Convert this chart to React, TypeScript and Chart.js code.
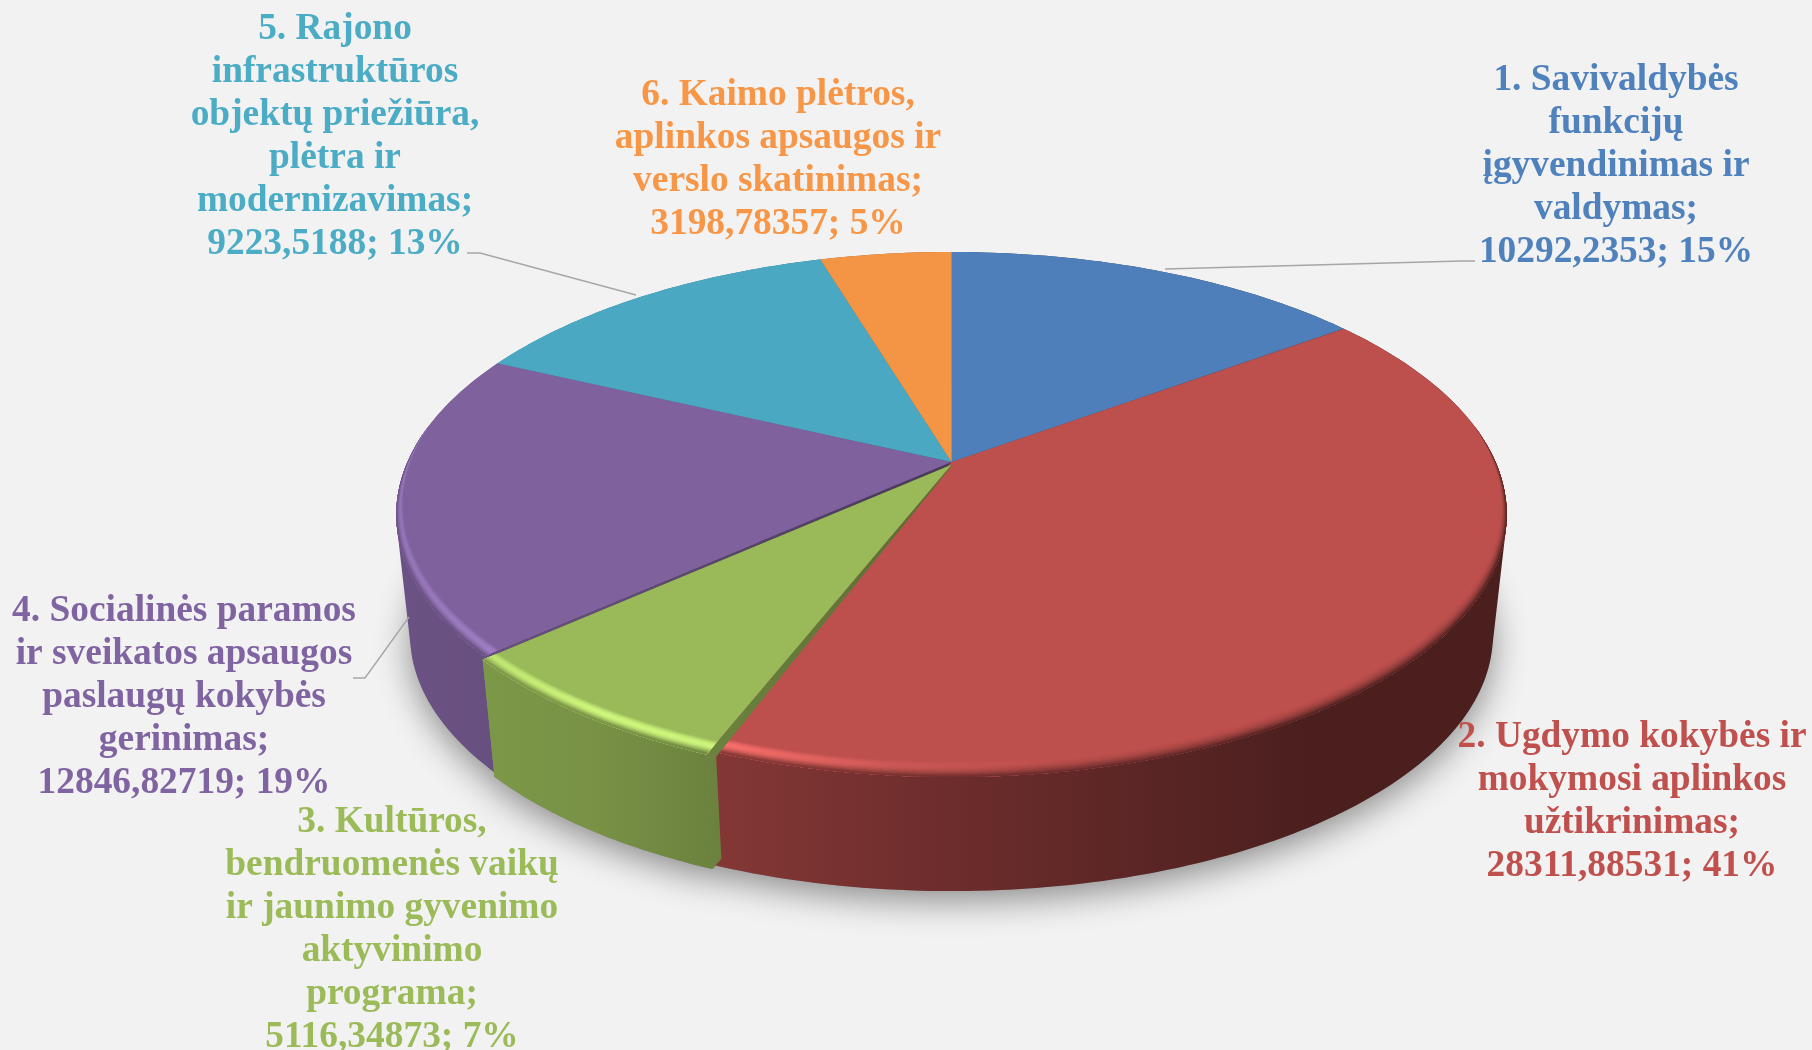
import React, { useEffect, useRef } from "react";
import { Chart, ArcElement, PieController } from "chart.js";

// ---- data -----------------------------------------------------------------
const categories: string[][] = [
  ["1. Savivaldybės", "funkcijų", "įgyvendinimas ir", "valdymas;"],
  ["2. Ugdymo kokybės ir", "mokymosi aplinkos", "užtikrinimas;"],
  ["3. Kultūros,", "bendruomenės vaikų", "ir jaunimo gyvenimo", "aktyvinimo", "programa;"],
  ["4. Socialinės paramos", "ir sveikatos apsaugos", "paslaugų kokybės", "gerinimas;"],
  ["5. Rajono", "infrastruktūros", "objektų priežiūra,", "plėtra ir", "modernizavimas;"],
  ["6. Kaimo plėtros,", "aplinkos apsaugos ir", "verslo skatinimas;"],
];
const values: number[] = [10292.2353, 28311.88531, 5116.34873, 12846.82719, 9223.5188, 3198.78357];
const sliceColors: string[] = ["#4e7fba", "#bd4f4c", "#9aba59", "#7f629d", "#4aa8c3", "#f49545"];
const labelColors: string[] = ["#4f81bd", "#c0504d", "#9bbb59", "#8064a2", "#4bacc6", "#f79646"];
const sliceOffsets: number[] = [0, 0, 6, 0, 0, 0];

// ---- layout ---------------------------------------------------------------
const labelAnchors = [
  { x: 1616, y: 90 },
  { x: 1632, y: 747 },
  { x: 392, y: 832 },
  { x: 184, y: 621 },
  { x: 335, y: 39 },
  { x: 778, y: 105 },
];
const leaderLines: number[][][] = [
  [[1475, 261], [1462, 261], [1165, 269]],
  [[353, 678], [365, 678], [409, 617]],
  [[467, 253], [480, 253], [636, 295]],
];
const LINE_HEIGHT = 43;
const FONT = 'bold 37.4px "Liberation Serif"';
const BACKGROUND = "#f2f2f2";

const K = 0.2; // perspective strength
const SY = 252 / 544; // vertical foreshortening
const LOWER_SCALE = 0.975; // far (bottom) plane of the pie
const LOWER_DY = 122 / 544; // drop of the bottom plane
const BEVEL = 0.04;
const STEP = Math.PI / 180;

// ---- colour helpers -------------------------------------------------------
const rgb = (hex: string) => [1, 3, 5].map((i) => parseInt(hex.slice(i, i + 2), 16));
const css = (c: number[]) => `rgb(${c.map((v) => Math.round(Math.max(0, Math.min(255, v)))).join(",")})`;
const wallStops = [
  [400, 0.84, 0.3],
  [600, 0.78, 0.62],
  [730, 0.69, 0.62],
  [900, 0.6, 0.2],
  [1060, 0.52, 0.04],
  [1320, 0.39, 0],
  [1510, 0.39, 0],
];
const X0 = 400;
const X1 = 1510;

function wallGradient(ctx: CanvasRenderingContext2D, base: number[]) {
  const g = ctx.createLinearGradient(X0, 0, X1, 0);
  wallStops.forEach(([x, f]) => g.addColorStop((x - X0) / (X1 - X0), css(base.map((b) => b * f))));
  return g;
}
function bevelGradient(ctx: CanvasRenderingContext2D, base: number[], t: number) {
  const g = ctx.createLinearGradient(X0, 0, X1, 0);
  const bump = Math.sin(Math.PI * Math.min(1, t * 1.15));
  const toWall = Math.pow(t, 2.2);
  wallStops.forEach(([x, f, h]) => {
    const c = base.map((b) => {
      const m = b + (b * f - b) * toWall;
      return m * (1 + 0.5 * h * bump) + 18 * h * bump;
    });
    g.addColorStop((x - X0) / (X1 - X0), css(c));
  });
  return g;
}

const signedArea = (p: number[][]) =>
  p.reduce((s, a, i) => {
    const b = p[(i + 1) % p.length];
    return s + a[0] * b[1] - b[0] * a[1];
  }, 0);

// ---- 3D slice element ------------------------------------------------------
class Arc3D extends ArcElement {
  static id = "arc3d";

  plane(r: number, a: number, lower: boolean) {
    const R = (this as any).outerRadius as number;
    const off = ((this as any).options.offset || 0) / R;
    const U = r * Math.cos(a);
    const V = r * Math.sin(a) + off; // a pulled slice moves towards the viewer
    const w = 1 - K * V;
    const scale = lower ? LOWER_SCALE : 1;
    return [
      (this as any).x + (R * scale * U) / w,
      (this as any).y + (lower ? LOWER_DY * R : 0) + (SY * R * scale * V) / w,
    ];
  }

  midCos() {
    return Math.cos(((this as any).startAngle + (this as any).endAngle) / 2);
  }

  angles() {
    const s = (this as any).startAngle as number;
    const e = (this as any).endAngle as number;
    const list: number[] = [];
    for (let a = s; a < e; a += STEP) list.push(a);
    list.push(e);
    return list;
  }

  poly(ctx: CanvasRenderingContext2D, pts: number[][]) {
    ctx.beginPath();
    pts.forEach((p, i) => (i ? ctx.lineTo(p[0], p[1]) : ctx.moveTo(p[0], p[1])));
    ctx.closePath();
  }

  // flat faces along the two cut edges, from radius rIn out to the rim
  drawRadial(ctx: CanvasRenderingContext2D, rIn: number) {
    ctx.fillStyle = wallGradient(ctx, rgb((this as any).options.backgroundColor));
    [(this as any).startAngle, (this as any).endAngle].forEach((a: number) => {
      this.poly(ctx, [this.plane(rIn, a, false), this.plane(1, a, false), this.plane(1, a, true), this.plane(rIn, a, true)]);
      ctx.fill();
    });
  }

  // the sliver of the cut face seen beside a pulled slice's top
  drawCutEdge(ctx: CanvasRenderingContext2D) {
    const a = (this as any).startAngle as number;
    const apex = this.plane(0, a, false);
    const rim = this.plane(1, a, false);
    ctx.fillStyle = wallGradient(ctx, rgb((this as any).options.backgroundColor));
    this.poly(ctx, [apex, rim, [rim[0] + 4, rim[1] - 1], [rim[0] + 5, rim[1] + 8], [apex[0] + 0.6, apex[1] + 0.6]]);
    ctx.fill();
  }

  // curved outer wall: one path of same-wound quads, so no seams appear
  drawWall(ctx: CanvasRenderingContext2D) {
    ctx.fillStyle = wallGradient(ctx, rgb((this as any).options.backgroundColor));
    const as = this.angles();
    ctx.beginPath();
    for (let i = 0; i < as.length - 1; i++) {
      let q = [
        this.plane(1, as[i], false),
        this.plane(1, as[i + 1], false),
        this.plane(1, as[i + 1], true),
        this.plane(1, as[i], true),
      ];
      if (signedArea(q) < 0) q = q.reverse();
      q.forEach((p, j) => (j ? ctx.lineTo(p[0], p[1]) : ctx.moveTo(p[0], p[1])));
      ctx.closePath();
    }
    ctx.fill();
  }

  draw(ctx: CanvasRenderingContext2D) {
    const color = (this as any).options.backgroundColor as string;
    const base = rgb(color);
    const as = this.angles();
    this.poly(ctx, [this.plane(0, as[0], false), ...as.map((a) => this.plane(1, a, false))]);
    ctx.fillStyle = color;
    ctx.fill();

    const width = (a: number) => BEVEL * Math.max(0, (Math.sin(a) + 0.15) / 1.15);
    const layers = 12;
    for (let i = 0; i < layers; i++) {
      const t = (i + 0.5) / layers;
      const edge = 1 - i / layers;
      ctx.fillStyle = bevelGradient(ctx, base, t);
      this.poly(ctx, [
        ...as.map((a) => this.plane(1, a, false)),
        ...as.slice().reverse().map((a) => this.plane(1 - width(a) * edge, a, false)),
      ]);
      ctx.fill();
    }
  }
}

// ---- controller: shadow, then walls, then top faces ------------------------
class Pie3DController extends PieController {
  static id = "pie3d";
  static defaults = { dataElementType: "arc3d" };

  draw() {
    const ctx = (this as any).chart.ctx as CanvasRenderingContext2D;
    const arcs = (this as any)._cachedMeta.data as Arc3D[];
    const still = arcs.filter((_, i) => !(sliceOffsets[i] > 0));
    const pulled = arcs.filter((_, i) => sliceOffsets[i] > 0);

    ctx.save();
    ctx.shadowColor = "rgba(0,0,0,0.42)";
    ctx.shadowBlur = 34;
    ctx.shadowOffsetY = 10;
    ctx.fillStyle = "#888";
    ctx.beginPath();
    arcs.forEach((arc) => arc.angles().forEach((a) => {
      const p = arc.plane(1, a, true);
      ctx.lineTo(p[0], p[1]);
    }));
    ctx.closePath();
    ctx.fill();
    ctx.restore();

    still
      .slice()
      .sort((a, b) => b.midCos() - a.midCos())
      .forEach((arc) => arc.drawRadial(ctx, 0));
    pulled.forEach((arc) => arc.drawRadial(ctx, 0));
    still.forEach((arc) => arc.drawWall(ctx));
    still.forEach((arc) => arc.draw(ctx));
    pulled.forEach((arc) => {
      arc.drawRadial(ctx, 0.97);
      arc.drawCutEdge(ctx);
      arc.drawWall(ctx);
      arc.draw(ctx);
    });
  }
}

Chart.register(ArcElement, Arc3D as any, PieController, Pie3DController as any);

// ---- data labels and leader lines -----------------------------------------
const labelsPlugin = {
  id: "sliceLabels",
  afterDatasetsDraw(chart: any) {
    const ctx = chart.ctx as CanvasRenderingContext2D;
    const total = values.reduce((a, b) => a + b, 0);
    ctx.save();
    ctx.strokeStyle = "#a6a6a6";
    ctx.lineWidth = 1.4;
    leaderLines.forEach((line) => {
      ctx.beginPath();
      line.forEach((p, i) => (i ? ctx.lineTo(p[0], p[1]) : ctx.moveTo(p[0], p[1])));
      ctx.stroke();
    });
    ctx.font = FONT;
    ctx.textAlign = "center";
    ctx.textBaseline = "alphabetic";
    categories.forEach((lines, i) => {
      const valueLine = `${String(values[i]).replace(".", ",")}; ${Math.round((values[i] / total) * 100)}%`;
      ctx.fillStyle = labelColors[i];
      [...lines, valueLine].forEach((text, j) => {
        ctx.fillText(text, labelAnchors[i].x, labelAnchors[i].y + j * LINE_HEIGHT);
      });
    });
    ctx.restore();
  },
};

export default function App() {
  const ref = useRef<HTMLCanvasElement>(null);
  useEffect(() => {
    document.body.style.margin = "0";
    document.body.style.background = BACKGROUND;
    const chart = new Chart(ref.current!, {
      type: "pie3d" as any,
      data: {
        labels: categories.map((c) => c.join(" ")),
        datasets: [
          {
            data: values,
            backgroundColor: sliceColors,
            offset: sliceOffsets,
            borderWidth: 0,
            clip: false,
          } as any,
        ],
      },
      options: {
        responsive: false,
        animation: false,
        radius: 544,
        layout: { padding: { left: 91, bottom: 126 } },
        plugins: { legend: { display: false }, tooltip: { enabled: false } },
      } as any,
      plugins: [labelsPlugin],
    });
    return () => chart.destroy();
  }, []);
  return (
    <div style={{ position: "absolute", left: 0, top: 0, width: 1812, height: 1050, background: BACKGROUND, overflow: "hidden" }}>
      <canvas ref={ref} width={1812} height={1050} style={{ display: "block" }} />
    </div>
  );
}
